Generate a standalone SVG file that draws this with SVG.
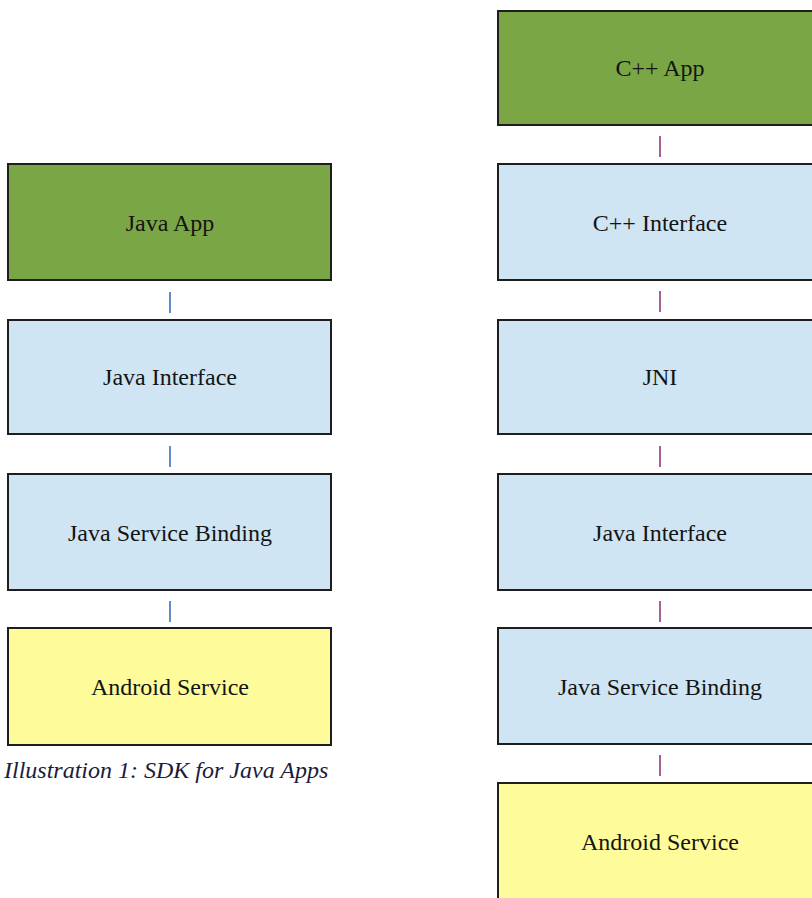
<svg xmlns="http://www.w3.org/2000/svg" width="812" height="898" viewBox="0 0 812 898">
<style>
.box{stroke:#1e1e1e;stroke-width:2}
.app{fill:#7ba646}
.ifc{fill:#cfe5f4}
.svc{fill:#fefc9a}
.lbl{font-family:"Liberation Serif","Times New Roman",serif;font-size:24px;fill:#141414;text-anchor:middle}
.cap{font-family:"Liberation Serif","Times New Roman",serif;font-size:24px;font-style:italic;fill:#1c1c3a}
.cl{stroke:#4f80c2;stroke-width:1.8}
.cr{stroke:#a24f8e;stroke-width:1.8}
</style>
<rect width="812" height="898" fill="#ffffff"/>
<g id="left-java-app"><rect class="box app" x="8" y="164" width="323" height="116"/><text class="lbl" x="170" y="231">Java App</text></g>
<g id="left-java-interface"><rect class="box ifc" x="8" y="320" width="323" height="114"/><text class="lbl" x="170" y="385">Java Interface</text></g>
<g id="left-java-service-binding"><rect class="box ifc" x="8" y="474" width="323" height="116"/><text class="lbl" x="170" y="541">Java Service Binding</text></g>
<g id="left-android-service"><rect class="box svc" x="8" y="628" width="323" height="117"/><text class="lbl" x="170" y="695">Android Service</text></g>
<g id="caption"><text class="cap" x="4" y="778">Illustration 1: SDK for Java Apps</text></g>
<g id="right-cpp-app"><rect class="box app" x="498" y="11" width="326" height="114"/><text class="lbl" x="660" y="76">C++ App</text></g>
<g id="right-cpp-interface"><rect class="box ifc" x="498" y="164" width="326" height="116"/><text class="lbl" x="660" y="231">C++ Interface</text></g>
<g id="right-jni"><rect class="box ifc" x="498" y="320" width="326" height="114"/><text class="lbl" x="660" y="385">JNI</text></g>
<g id="right-java-interface"><rect class="box ifc" x="498" y="474" width="326" height="116"/><text class="lbl" x="660" y="541">Java Interface</text></g>
<g id="right-java-service-binding"><rect class="box ifc" x="498" y="628" width="326" height="116"/><text class="lbl" x="660" y="695">Java Service Binding</text></g>
<g id="right-android-service"><rect class="box svc" x="498" y="783" width="326" height="130"/><text class="lbl" x="660" y="850">Android Service</text></g>
<g id="connectors">
<line class="cl" x1="170" y1="292" x2="170" y2="313"/>
<line class="cl" x1="170" y1="446" x2="170" y2="467"/>
<line class="cl" x1="170" y1="601" x2="170" y2="622"/>
<line class="cr" x1="660" y1="136" x2="660" y2="157"/>
<line class="cr" x1="660" y1="291" x2="660" y2="312"/>
<line class="cr" x1="660" y1="446" x2="660" y2="467"/>
<line class="cr" x1="660" y1="601" x2="660" y2="622"/>
<line class="cr" x1="660" y1="755" x2="660" y2="776"/>
</g>
</svg>
